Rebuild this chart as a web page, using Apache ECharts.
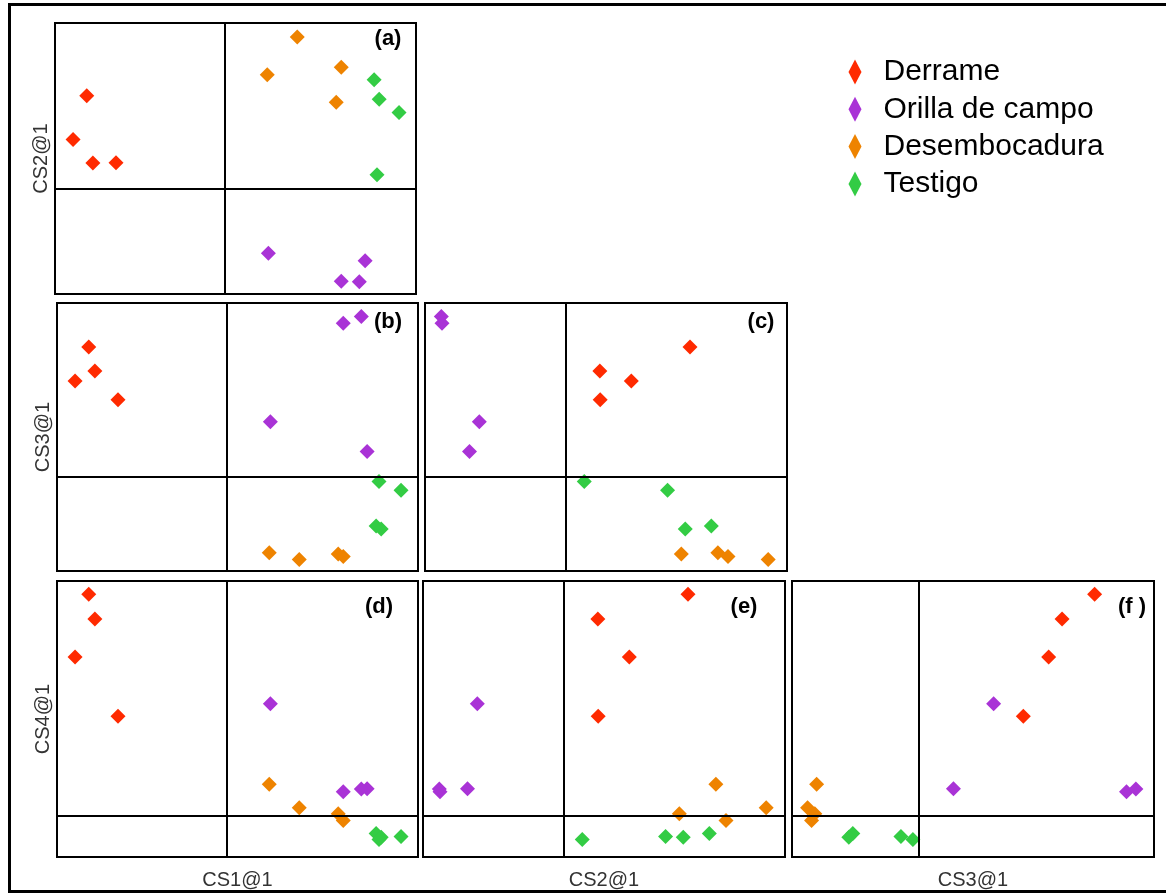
<!DOCTYPE html>
<html>
<head>
<meta charset="utf-8">
<script src="https://cdn.jsdelivr.net/npm/echarts@6/dist/echarts.min.js"></script>
<style>
  html, body { margin: 0; padding: 0; background: #fff; }
  #chart { width: 1166px; height: 894px; }
</style>
</head>
<body>
<div id="chart"></div>
<script>
// Canonical scores (CS1..CS4) for the four site groups, four samples each
const groupNames = ['Derrame', 'Orilla de campo', 'Desembocadura', 'Testigo'];
const groupColors = ['#FF2A00', '#A933D6', '#EE8300', '#33CC44'];

const derrameCS1 = [-3.82, -4.20, -3.65, -3.01];
const derrameCS2 = [3.42, 1.80, 0.93, 0.94];
const derrameCS3 = [4.86, 3.59, 3.96, 2.89];
const derrameCS4 = [8.02, 5.75, 7.12, 3.60];

const orillaCS1 = [1.21, 3.89, 3.23, 3.73];
const orillaCS2 = [-2.40, -2.67, -3.43, -3.45];
const orillaCS3 = [2.07, 0.96, 5.74, 6.00];
const orillaCS4 = [4.05, 0.97, 0.86, 0.96];

const desembocaduraCS1 = [1.18, 2.01, 3.23, 3.09];
const desembocaduraCS2 = [4.19, 5.58, 4.47, 3.18];
const desembocaduraCS3 = [-2.82, -3.07, -2.96, -2.87];
const desembocaduraCS4 = [1.14, 0.28, -0.18, 0.07];

const testigoCS1 = [4.14, 4.28, 4.83, 4.22];
const testigoCS2 = [4.01, 3.29, 2.80, 0.50];
const testigoCS3 = [-1.82, -1.93, -0.49, -0.16];
const testigoCS4 = [-0.65, -0.78, -0.76, -0.87];

const axisNames = ['CS1@1', 'CS2@1', 'CS3@1', 'CS4@1'];
const axisMin = [-4.7, -3.9, -3.5, -1.5];
const axisMax = [5.3, 6.1, 6.5, 8.5];

const groupScores = [
  [derrameCS1, derrameCS2, derrameCS3, derrameCS4],
  [orillaCS1, orillaCS2, orillaCS3, orillaCS4],
  [desembocaduraCS1, desembocaduraCS2, desembocaduraCS3, desembocaduraCS4],
  [testigoCS1, testigoCS2, testigoCS3, testigoCS4]
];

// Lower-triangle scatter matrix: which score goes on x / y in each panel
const panels = [
  { tag: '(a)', xVar: 0, yVar: 1, box: [55, 23, 361, 271], showX: false, showY: true, tagPos: [388, 39] },
  { tag: '(b)', xVar: 0, yVar: 2, box: [57, 303, 361, 268], showX: false, showY: true, tagPos: [388, 322] },
  { tag: '(c)', xVar: 1, yVar: 2, box: [425, 303, 362, 268], showX: false, showY: false, tagPos: [761, 322] },
  { tag: '(d)', xVar: 0, yVar: 3, box: [57, 581, 361, 276], showX: true, showY: true, tagPos: [379, 607] },
  { tag: '(e)', xVar: 1, yVar: 3, box: [423, 581, 362, 276], showX: true, showY: false, tagPos: [744, 607] },
  { tag: '(f )', xVar: 2, yVar: 3, box: [792, 581, 362, 276], showX: true, showY: false, tagPos: [1132, 607] }
];

const FONT = "'Liberation Sans', Arial, sans-serif";

const grids = [], xAxes = [], yAxes = [], series = [], graphics = [];

panels.forEach((p, i) => {
  grids.push({
    left: p.box[0], top: p.box[1], width: p.box[2], height: p.box[3],
    show: true, borderColor: '#000', borderWidth: 2, backgroundColor: 'transparent'
  });
  const hidden = {
    axisLine: { show: false }, axisTick: { show: false },
    axisLabel: { show: false }, splitLine: { show: false }
  };
  xAxes.push(Object.assign({
    type: 'value', gridIndex: i,
    min: axisMin[p.xVar], max: axisMax[p.xVar],
    name: p.showX ? axisNames[p.xVar] : '',
    nameLocation: 'middle', nameGap: 13,
    nameTextStyle: { fontFamily: FONT, fontSize: 20, color: '#333', verticalAlign: 'top' }
  }, hidden));
  yAxes.push(Object.assign({
    type: 'value', gridIndex: i,
    min: axisMin[p.yVar], max: axisMax[p.yVar],
    name: p.showY ? axisNames[p.yVar] : '',
    nameLocation: 'middle', nameGap: 4, nameRotate: 90,
    nameTextStyle: { fontFamily: FONT, fontSize: 20, color: '#333', verticalAlign: 'bottom' }
  }, hidden));

  groupNames.forEach((g, k) => {
    const xs = groupScores[k][p.xVar];
    const ys = groupScores[k][p.yVar];
    const s = {
      type: 'scatter', name: g, xAxisIndex: i, yAxisIndex: i,
      symbol: 'diamond', symbolSize: 15,
      itemStyle: { color: groupColors[k], opacity: 1 },
      data: xs.map((v, j) => [v, ys[j]]),
      z: 3
    };
    if (k === 0) {
      // origin cross-hairs of the panel
      s.markLine = {
        silent: true, symbol: ['none', 'none'], animation: false,
        label: { show: false },
        lineStyle: { color: '#000', type: 'solid', width: 2 },
        emphasis: { disabled: true },
        data: [{ xAxis: 0 }, { yAxis: 0 }]
      };
    }
    series.push(s);
  });

  graphics.push({
    type: 'text', x: p.tagPos[0], y: p.tagPos[1],
    style: {
      text: p.tag, fill: '#000', font: 'bold 22px ' + FONT,
      textAlign: 'center', textVerticalAlign: 'middle'
    },
    z: 10
  });
});

// outer frame of the figure
graphics.push({
  type: 'rect',
  shape: { x: 9.5, y: 4.5, width: 1170, height: 887 },
  style: { fill: 'none', stroke: '#000', lineWidth: 3 },
  z: 0
});

const chart = echarts.init(document.getElementById('chart'), null, { renderer: 'canvas' });
chart.setOption({
  animation: false,
  backgroundColor: '#fff',
  grid: grids,
  xAxis: xAxes,
  yAxis: yAxes,
  legend: {
    data: groupNames,
    orient: 'vertical',
    left: 848.5, top: 57,
    padding: 0,
    icon: 'diamond',
    itemWidth: 13, itemHeight: 25, itemGap: 7.3,
    textStyle: { fontFamily: FONT, fontSize: 30, color: '#000', padding: [0, 0, 0, 17] }
  },
  graphic: graphics,
  series: series
});
</script>
</body>
</html>
